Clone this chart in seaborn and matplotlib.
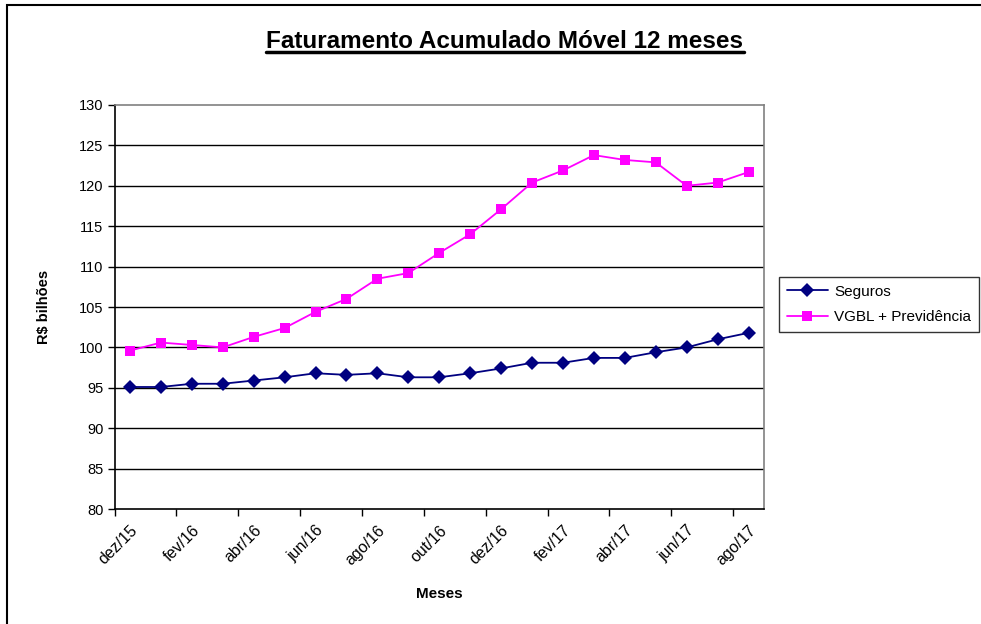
import matplotlib
matplotlib.use('Agg')
import matplotlib.pyplot as plt
import seaborn as sns
import pandas as pd
from matplotlib.lines import Line2D
from matplotlib.patches import Rectangle

meses = ['dez/15', 'jan/16', 'fev/16', 'mar/16', 'abr/16', 'mai/16', 'jun/16',
         'jul/16', 'ago/16', 'set/16', 'out/16', 'nov/16', 'dez/16', 'jan/17',
         'fev/17', 'mar/17', 'abr/17', 'mai/17', 'jun/17', 'jul/17', 'ago/17']
seguros = [95.1, 95.1, 95.5, 95.5, 95.9, 96.3, 96.8, 96.6, 96.8, 96.3, 96.3,
           96.8, 97.4, 98.1, 98.1, 98.7, 98.7, 99.4, 100.0, 101.0, 101.8]
vgbl = [99.6, 100.6, 100.3, 100.0, 101.3, 102.4, 104.4, 106.0, 108.5, 109.2, 111.7,
        114.0, 117.1, 120.4, 121.9, 123.8, 123.2, 122.9, 120.0, 120.4, 121.7]
series_names = ['Seguros', 'VGBL + Previdência']
y_ticks = list(range(80, 131, 5))

df = pd.DataFrame({
    'idx': list(range(len(meses))) * 2,
    'valor': seguros + vgbl,
    'serie': [series_names[0]] * len(meses) + [series_names[1]] * len(meses),
})

sns.set_theme(style='white')
plt.rcParams['font.family'] = ['Liberation Sans', 'DejaVu Sans']
plt.rcParams.update({'text.color': 'black', 'axes.labelcolor': 'black',
                     'xtick.color': 'black', 'ytick.color': 'black'})

fig = plt.figure(figsize=(9.81, 6.24), dpi=100)
W, H = 981, 624
ax = fig.add_axes([114.5 / W, 1 - 509 / H, (764 - 114.5) / W, (509 - 105) / H])

palette = {series_names[0]: '#000080', series_names[1]: '#FF00FF'}
sns.lineplot(data=df, x='idx', y='valor', hue='serie', style='serie',
             palette=palette, markers={series_names[0]: 'D', series_names[1]: 's'},
             dashes=False, markersize=7.5, linewidth=1.3, markeredgewidth=0,
             ax=ax, legend=False)

ax.set_xlim(-0.5, len(meses) - 0.5)
ax.set_ylim(80, 130)
ax.set_yticks(y_ticks)
ax.set_yticklabels([str(v) for v in y_ticks], fontsize=10.5)
for v in y_ticks[1:-1]:
    ax.axhline(v, color='black', lw=1, zorder=0)

# category axis: ticks between categories, labels on every other month
ax.set_xticks([i - 0.5 for i in range(0, len(meses), 2)])
ax.set_xticklabels([])
ax.set_xticks(list(range(0, len(meses), 2)), minor=True)
ax.set_xticklabels(meses[::2], minor=True, rotation=45, ha='right',
                   rotation_mode='anchor', fontsize=11.5)
ax.tick_params(axis='x', which='major', direction='out', length=5, width=1, color='black', bottom=True)
ax.tick_params(axis='x', which='minor', length=0, pad=10)
ax.tick_params(axis='y', direction='out', length=5, width=1, color='black', left=True, pad=3)

for s in ['left', 'bottom']:
    ax.spines[s].set_color('black')
    ax.spines[s].set_linewidth(1.2)
for s in ['top', 'right']:
    ax.spines[s].set_color('#808080')
    ax.spines[s].set_linewidth(1.2)

ax.set_xlabel('Meses', fontsize=11, fontweight='bold', labelpad=14)
ax.set_ylabel('R$ bilhões', fontsize=10.5, fontweight='bold', labelpad=20)

title = fig.text(505 / W, 1 - 41 / H, 'Faturamento Acumulado Móvel 12 meses',
                 ha='center', va='center', fontsize=17.5, fontweight='bold')

handles = [Line2D([], [], color='#000080', marker='D', markersize=7.5, lw=1.3, markeredgewidth=0),
           Line2D([], [], color='#FF00FF', marker='s', markersize=7.5, lw=1.3, markeredgewidth=0)]
leg = fig.legend(handles, series_names, loc='upper left',
                 bbox_to_anchor=(779 / W, 1 - 277 / H), fontsize=11,
                 frameon=True, fancybox=False, edgecolor='black', handlelength=2.7,
                 borderpad=0.5, labelspacing=0.75, handletextpad=0.4, borderaxespad=0)
leg.get_frame().set_linewidth(1)

# underline under the title
fig.canvas.draw()
bb = title.get_window_extent()
yline = (bb.y0 + 1) / H
fig.add_artist(Line2D([bb.x0 / W, bb.x1 / W], [yline, yline], color='black', lw=2.5))

# outer chart frame
fig.add_artist(Rectangle((7 / W, -0.1), 1.2, 1 - 5 / H + 0.1, fill=False,
                         edgecolor='black', lw=1.5, transform=fig.transFigure))

fig.savefig('out.png', dpi=100)
